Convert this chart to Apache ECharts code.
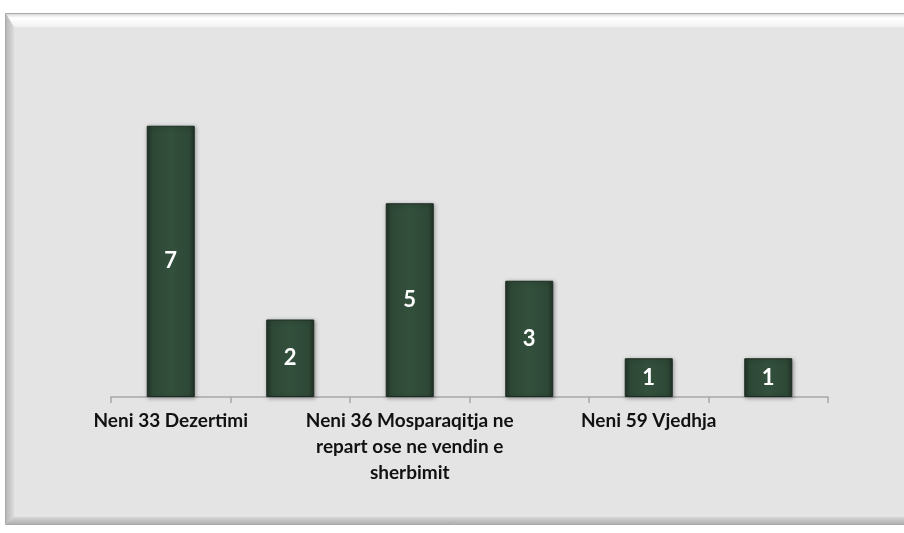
<!DOCTYPE html>
<html><head><meta charset="utf-8">
<script src="https://cdn.jsdelivr.net/npm/echarts@6/dist/echarts.min.js"></script>
<style>html,body{margin:0;padding:0;background:#fff}#c{width:904px;height:533px}</style>
</head><body><div id="c"></div>
<script>
const categories = ['Neni 33 Dezertimi', '', 'Neni 36 Mosparaqitja ne\nrepart ose ne vendin e\nsherbimit', '', 'Neni 59 Vjedhja', ''];
const values = [7, 2, 5, 3, 1, 1];
const yMax = 8;

const chart = echarts.init(document.getElementById('c'));
const barFill = new echarts.graphic.LinearGradient(0, 0, 1, 0, [
  {offset: 0, color: '#223428'},
  {offset: 0.12, color: '#2e4836'},
  {offset: 0.5, color: '#33503d'},
  {offset: 0.88, color: '#2e4836'},
  {offset: 1, color: '#223428'}
]);
chart.setOption({
  backgroundColor: '#ffffff',
  animation: false,
  graphic: [
    {type: 'rect', z: -10, shape: {x: 5.5, y: 13.5, width: 910, height: 511}, style: {fill: '#e4e4e4', stroke: '#a9a9a9', lineWidth: 1}},
    {type: 'polygon', z: -9, shape: {points: [[6, 14], [910, 14], [910, 27], [14, 27]]},
      style: {fill: new echarts.graphic.LinearGradient(0, 0, 0, 1, [{offset: 0, color: '#d8d8d8'}, {offset: 0.3, color: '#ffffff'}, {offset: 1, color: '#f2f2f2'}])}},
    {type: 'polygon', z: -9, shape: {points: [[6, 14], [14, 27], [14, 517], [6, 524]]},
      style: {fill: new echarts.graphic.LinearGradient(0, 0, 1, 0, [{offset: 0, color: '#b8b8b8'}, {offset: 1, color: '#dcdcdc'}])}},
    {type: 'polygon', z: -9, shape: {points: [[6, 524], [14, 517], [910, 517], [910, 524]]},
      style: {fill: new echarts.graphic.LinearGradient(0, 0, 0, 1, [{offset: 0, color: '#d6d6d6'}, {offset: 1, color: '#b0b0b0'}])}}
  ],
  grid: {left: 111, right: 76, top: 87, bottom: 136, containLabel: false},
  xAxis: {
    type: 'category',
    data: categories,
    boundaryGap: true,
    axisLine: {lineStyle: {color: '#a6a6a6', width: 1.5}},
    axisTick: {show: true, alignWithLabel: false, length: 6, lineStyle: {color: '#a6a6a6', width: 1.5}},
    axisLabel: {
      interval: 0,
      margin: 11,
      color: '#111111',
      fontFamily: 'Lato',
      fontWeight: 'bold',
      fontSize: 19,
      lineHeight: 26
    }
  },
  yAxis: {
    type: 'value', min: 0, max: yMax, interval: 1,
    show: false,
    splitLine: {show: false}
  },
  series: [{
    type: 'bar',
    data: values,
    barWidth: 48,
    itemStyle: {
      color: barFill,
      borderColor: '#1d2c22',
      borderWidth: 1,
      shadowColor: 'rgba(0,0,0,0.35)',
      shadowBlur: 4,
      shadowOffsetX: 1,
      shadowOffsetY: 1
    },
    label: {
      show: true,
      position: 'inside',
      color: '#ffffff',
      fontFamily: 'Lato',
      fontWeight: 'bold',
      fontSize: 22
    }
  }]
});
</script>
</body></html>
